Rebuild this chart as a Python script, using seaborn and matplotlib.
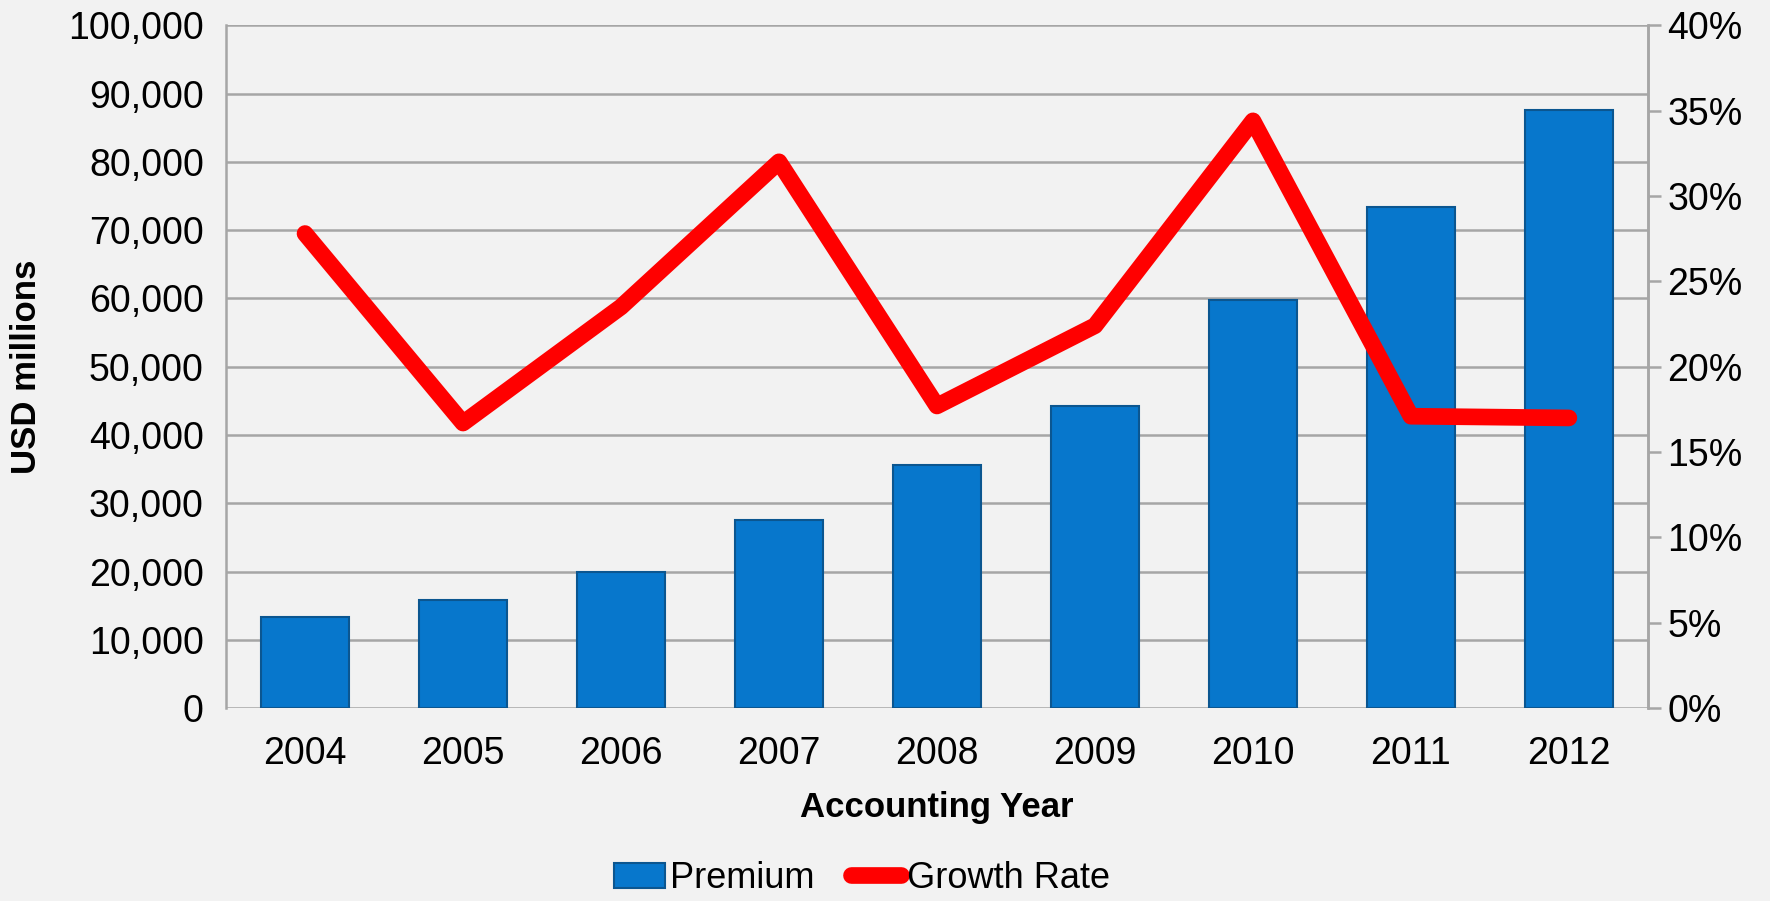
import matplotlib
matplotlib.use("Agg")
import matplotlib.pyplot as plt
import matplotlib.ticker as mticker
from matplotlib.lines import Line2D
from matplotlib.patches import Patch
import seaborn as sns

years = ["2004", "2005", "2006", "2007", "2008", "2009", "2010", "2011", "2012"]
premium = [13400, 15900, 20000, 27600, 35600, 44300, 59700, 73400, 87600]
growth = [27.8, 16.7, 23.5, 32.0, 17.7, 22.4, 34.4, 17.1, 17.0]

BG = "#f2f2f2"
BAR = "#0777cc"
GRID = "#a6a6a6"

sns.set_theme(style="white")
plt.rcParams["font.family"] = ["Liberation Sans", "DejaVu Sans"]
plt.rcParams["text.color"] = "black"
plt.rcParams["axes.labelcolor"] = "black"

fig = plt.figure(figsize=(17.7, 9.01), dpi=100, facecolor=BG)
ax = fig.add_axes([0.1277, 0.214, 0.931 - 0.1277, 0.972 - 0.214])
ax.set_facecolor(BG)

sns.barplot(x=years, y=premium, ax=ax, color=BAR, width=0.56, saturation=1,
            edgecolor="#0b5690", linewidth=1.5, zorder=3)
ax.set_ylim(0, 100000)
ax.set_yticks(range(0, 100001, 10000))
ax.yaxis.set_major_formatter(mticker.FuncFormatter(lambda v, p: f"{int(v):,}"))
ax.grid(axis="y", color=GRID, linewidth=1.8, zorder=0)
ax.grid(axis="x", visible=False)
ax.set_axisbelow(True)
for s in ["top", "bottom"]:
    ax.spines[s].set_visible(False)
for s in ["left", "right"]:
    ax.spines[s].set_color(GRID)
    ax.spines[s].set_linewidth(1.8)
ax.tick_params(axis="y", length=0, pad=16, labelsize=27, labelcolor="black")
ax.tick_params(axis="x", length=0, pad=20, labelsize=27, labelcolor="black")
ax.set_ylabel("USD millions", fontsize=25, fontweight="bold", labelpad=18, color="black")
ax.set_xlabel("Accounting Year", fontsize=25, fontweight="bold", labelpad=14, color="black")
ax.set_xlim(-0.5, len(years) - 0.5)

ax2 = ax.twinx()
sns.pointplot(x=years, y=growth, ax=ax2, color="#ff0000", markers="",
              linewidth=12, errorbar=None)
for ln in ax2.lines:
    ln.set_solid_capstyle("round")
    ln.set_solid_joinstyle("round")
ax2.set_ylim(0, 40)
ax2.set_yticks(range(0, 41, 5))
ax2.yaxis.set_major_formatter(mticker.FuncFormatter(lambda v, p: f"{int(v)}%"))
ax2.set_ylabel("")
ax2.set_xlim(-0.5, len(years) - 0.5)
for s in ["top", "bottom", "left"]:
    ax2.spines[s].set_visible(False)
ax2.spines["right"].set_color(GRID)
ax2.spines["right"].set_linewidth(1.8)
ax2.tick_params(axis="y", direction="out", length=9, width=1.8, color=GRID,
                pad=5, labelsize=27, labelcolor="black", right=True)
ax2.grid(False)

handles = [Patch(facecolor=BAR, edgecolor="#0b5690", linewidth=1.5),
           Line2D([0], [0], color="#ff0000", linewidth=12, solid_capstyle="round")]
leg = fig.legend(handles, ["Premium", "Growth Rate"], loc="center",
                 bbox_to_anchor=(0.487, 0.025), ncol=2, frameon=False, fontsize=26,
                 handlelength=1.4, handletextpad=0.15, columnspacing=1.0)
for t in leg.get_texts():
    t.set_color("black")

fig.savefig("out.png", dpi=100, facecolor=BG)
